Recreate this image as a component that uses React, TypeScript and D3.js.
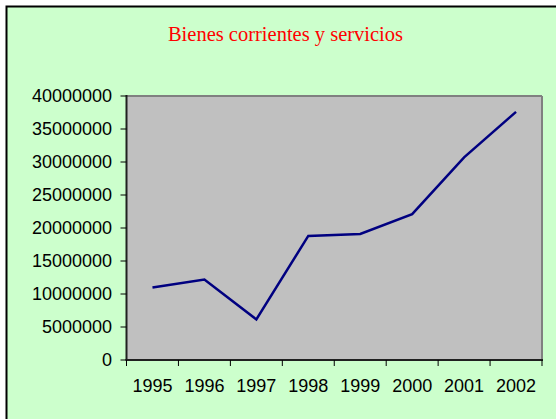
import React from "react";
import * as d3 from "d3";

const years = ["1995", "1996", "1997", "1998", "1999", "2000", "2001", "2002"];
const values = [11000000, 12200000, 6150000, 18800000, 19100000, 22100000, 30700000, 37600000];
const yTicks = [0, 5000000, 10000000, 15000000, 20000000, 25000000, 30000000, 35000000, 40000000];
const title = "Bienes corrientes y servicios";

const W = 556, H = 419;
const plot = { left: 126.5, right: 542, top: 96, bottom: 360 };

export default function App() {
  const x = d3.scaleBand<string>().domain(years).range([plot.left, plot.right]).padding(0);
  const y = d3.scaleLinear().domain([0, 40000000]).range([plot.bottom, plot.top]);
  const line = d3.line<number>()
    .x((_, i) => (x(years[i]) as number) + x.bandwidth() / 2)
    .y((d) => y(d));
  const boundaries = years.map((yr) => x(yr) as number).concat([plot.right]);
  const font = "'Liberation Sans', Arial, sans-serif";
  return (
    <svg width={W} height={H} style={{ position: "absolute", left: 0, top: 0 }}>
      <rect x={0} y={0} width={W} height={H} fill="#FFFFFF" />
      <rect x={6.5} y={6.5} width={W + 10} height={H + 10} fill="#CCFFCC" stroke="#000" strokeWidth={2} />
      <text x={285.5} y={41} textAnchor="middle" fill="#FF0000" fontFamily="'Liberation Serif', 'Times New Roman', serif" fontSize={20.5}>{title}</text>
      <rect x={plot.left} y={plot.top} width={plot.right - plot.left} height={plot.bottom - plot.top} fill="#C0C0C0" />
      <line x1={plot.left} x2={plot.right} y1={plot.top} y2={plot.top} stroke="#808080" strokeWidth={2} />
      <line x1={plot.right} x2={plot.right} y1={plot.top} y2={plot.bottom} stroke="#808080" strokeWidth={2} />
      <line x1={plot.left} x2={plot.left} y1={plot.top - 1} y2={plot.bottom} stroke="#202020" strokeWidth={2} />
      <line x1={plot.left - 1} x2={plot.right + 1} y1={plot.bottom} y2={plot.bottom} stroke="#202020" strokeWidth={2} />
      {yTicks.map((t) => (
        <g key={t}>
          <line x1={plot.left - 6} x2={plot.left} y1={y(t)} y2={y(t)} stroke="#000" strokeWidth={1} />
          <text x={112} y={y(t)} dy="0.36em" textAnchor="end" fontFamily={font} fontSize={18} fill="#000">{t}</text>
        </g>
      ))}
      {boundaries.map((b, i) => (
        <line key={i} x1={b} x2={b} y1={plot.bottom} y2={plot.bottom + 6} stroke="#000" strokeWidth={1} />
      ))}
      {years.map((yr) => (
        <text key={yr} x={(x(yr) as number) + x.bandwidth() / 2} y={392} textAnchor="middle" fontFamily={font} fontSize={18} fill="#000">{yr}</text>
      ))}
      <path d={line(values) || ""} fill="none" stroke="#000080" strokeWidth={2.5} strokeLinejoin="miter" />
    </svg>
  );
}
